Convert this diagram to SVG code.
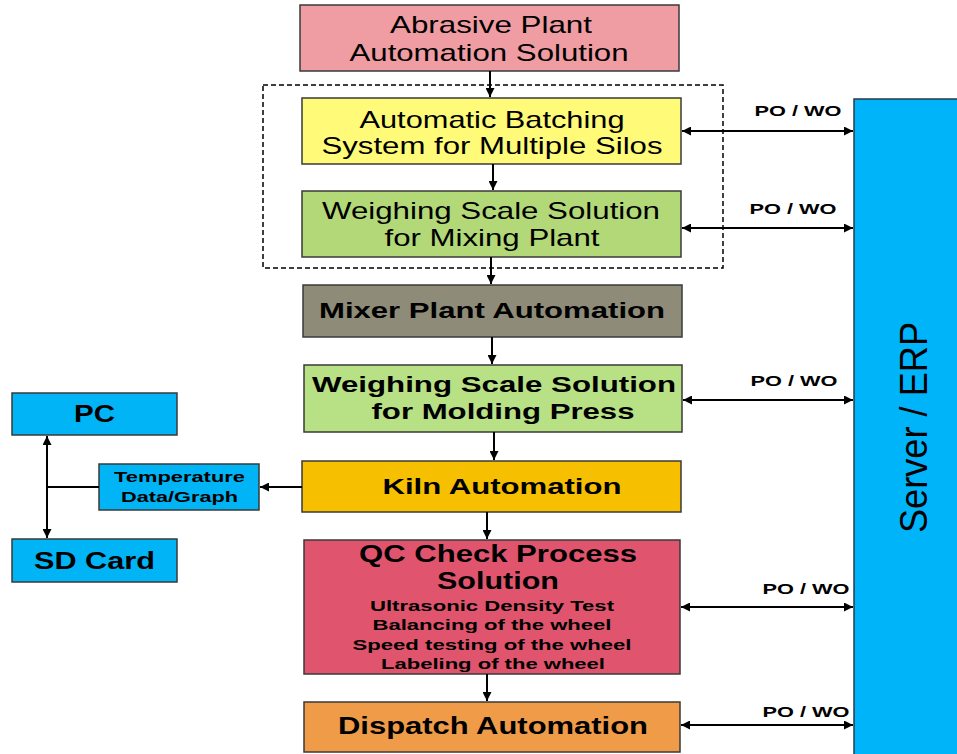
<svg xmlns="http://www.w3.org/2000/svg" width="957" height="754" viewBox="0 0 957 754">
<defs>
<marker id="ah" viewBox="0 0 10 10" refX="10" refY="5" markerWidth="9" markerHeight="9" markerUnits="userSpaceOnUse" orient="auto-start-reverse">
<path d="M0,0 L10,5 L0,10 Z" fill="#000"/>
</marker>
</defs>
<style>
.box{stroke:#3a3a3a;stroke-width:1.5}
.t{font-family:"Liberation Sans",Arial,sans-serif;fill:#000;text-anchor:middle}
.b{font-weight:bold}
.c{stroke:#000;stroke-width:2;fill:none}
.lbl{font-family:"Liberation Sans",Arial,sans-serif;font-weight:bold;font-size:15px;fill:#000;text-anchor:middle}
</style>
<rect width="957" height="754" fill="#fff"/>

<g id="group-dashed">
<rect x="263" y="85" width="460" height="183" fill="none" stroke="#000" stroke-width="1.5" stroke-dasharray="5,3"/>
</g>

<g id="abrasive">
<rect class="box" x="300" y="5" width="379" height="66" fill="#EF9CA3"/>
<text class="t" font-size="24" x="491" y="33" textLength="202" lengthAdjust="spacingAndGlyphs">Abrasive Plant</text>
<text class="t" font-size="24" x="489" y="61" textLength="279" lengthAdjust="spacingAndGlyphs">Automation Solution</text>
</g>

<g id="batching">
<rect class="box" x="302" y="98" width="379" height="66" fill="#FFFB78"/>
<text class="t" font-size="24" x="492" y="128" textLength="265" lengthAdjust="spacingAndGlyphs">Automatic Batching</text>
<text class="t" font-size="24" x="492" y="154" textLength="341" lengthAdjust="spacingAndGlyphs">System for Multiple Silos</text>
</g>

<g id="weighing-mixing">
<rect class="box" x="302" y="191" width="379" height="66" fill="#B3D878"/>
<text class="t" font-size="24" x="491" y="219" textLength="338" lengthAdjust="spacingAndGlyphs">Weighing Scale Solution</text>
<text class="t" font-size="24" x="492" y="246" textLength="215" lengthAdjust="spacingAndGlyphs">for Mixing Plant</text>
</g>

<g id="mixer">
<rect class="box" x="303" y="285" width="379" height="52" fill="#8E8B79"/>
<text class="t b" font-size="22" x="492" y="318" textLength="346" lengthAdjust="spacingAndGlyphs">Mixer Plant Automation</text>
</g>

<g id="weighing-molding">
<rect class="box" x="304" y="365" width="378" height="67" fill="#B8E084"/>
<text class="t b" font-size="22" x="494" y="392" textLength="364" lengthAdjust="spacingAndGlyphs">Weighing Scale Solution</text>
<text class="t b" font-size="22" x="503" y="419" textLength="263" lengthAdjust="spacingAndGlyphs">for Molding Press</text>
</g>

<g id="kiln">
<rect class="box" x="302" y="461" width="379" height="51" fill="#F6C000"/>
<text class="t b" font-size="22" x="502" y="494" textLength="239" lengthAdjust="spacingAndGlyphs">Kiln Automation</text>
</g>

<g id="qc">
<rect class="box" x="304" y="540" width="376" height="134" fill="#E0556D"/>
<text class="t b" font-size="23" x="498" y="562" textLength="278" lengthAdjust="spacingAndGlyphs">QC Check Process</text>
<text class="t b" font-size="23" x="498" y="589" textLength="122" lengthAdjust="spacingAndGlyphs">Solution</text>
<text class="t b" font-size="15" x="492" y="611" textLength="244" lengthAdjust="spacingAndGlyphs">Ultrasonic Density Test</text>
<text class="t b" font-size="15" x="492" y="630" textLength="239" lengthAdjust="spacingAndGlyphs">Balancing of the wheel</text>
<text class="t b" font-size="15" x="492" y="650" textLength="279" lengthAdjust="spacingAndGlyphs">Speed testing of the wheel</text>
<text class="t b" font-size="15" x="493" y="669" textLength="224" lengthAdjust="spacingAndGlyphs">Labeling of the wheel</text>
</g>

<g id="dispatch">
<rect class="box" x="304" y="702" width="376" height="50" fill="#EF9B48"/>
<text class="t b" font-size="23" x="493" y="734" textLength="310" lengthAdjust="spacingAndGlyphs">Dispatch Automation</text>
</g>

<g id="pc">
<rect class="box" x="12" y="393" width="165" height="42" fill="#00B4F6"/>
<text class="t b" font-size="23" x="94.5" y="422" textLength="41" lengthAdjust="spacingAndGlyphs">PC</text>
</g>

<g id="sdcard">
<rect class="box" x="12" y="539" width="165" height="43" fill="#00B4F6"/>
<text class="t b" font-size="23" x="94.5" y="569" textLength="121" lengthAdjust="spacingAndGlyphs">SD Card</text>
</g>

<g id="temperature">
<rect class="box" x="99" y="464" width="160" height="46" fill="#00B4F6"/>
<text class="t b" font-size="15" x="179.5" y="482" textLength="131" lengthAdjust="spacingAndGlyphs">Temperature</text>
<text class="t b" font-size="15" x="179.5" y="502" textLength="117" lengthAdjust="spacingAndGlyphs">Data/Graph</text>
</g>

<g id="server">
<rect x="854" y="99" width="110" height="660" fill="#00B4FA" stroke="#2a3a4a" stroke-width="1.5"/>
<text class="t" font-size="38" transform="translate(927,427.5) rotate(-90)" x="0" y="0" textLength="211" lengthAdjust="spacingAndGlyphs" fill="#111">Server / ERP</text>
</g>

<g id="connectors">
<line class="c" x1="490" y1="71" x2="490" y2="97" marker-end="url(#ah)"/>
<line class="c" x1="493" y1="164" x2="493" y2="190" marker-end="url(#ah)"/>
<line class="c" x1="491" y1="257" x2="491" y2="284" marker-end="url(#ah)"/>
<line class="c" x1="492" y1="337" x2="492" y2="364" marker-end="url(#ah)"/>
<line class="c" x1="494" y1="432" x2="494" y2="460" marker-end="url(#ah)"/>
<line class="c" x1="487" y1="512" x2="487" y2="539" marker-end="url(#ah)"/>
<line class="c" x1="487" y1="674" x2="487" y2="701" marker-end="url(#ah)"/>
<line class="c" x1="302" y1="487" x2="260" y2="487" marker-end="url(#ah)"/>
<line class="c" x1="47" y1="436" x2="47" y2="538" marker-start="url(#ah)" marker-end="url(#ah)"/>
<line class="c" x1="47" y1="487" x2="99" y2="487"/>
<line class="c" x1="682" y1="131" x2="853" y2="131" marker-start="url(#ah)" marker-end="url(#ah)"/>
<line class="c" x1="682" y1="228" x2="853" y2="228" marker-start="url(#ah)" marker-end="url(#ah)"/>
<line class="c" x1="683" y1="400" x2="853" y2="400" marker-start="url(#ah)" marker-end="url(#ah)"/>
<line class="c" x1="681" y1="607" x2="853" y2="607" marker-start="url(#ah)" marker-end="url(#ah)"/>
<line class="c" x1="681" y1="725" x2="853" y2="725" marker-start="url(#ah)" marker-end="url(#ah)"/>
<text class="lbl" x="798" y="116" textLength="87" lengthAdjust="spacingAndGlyphs">PO / WO</text>
<text class="lbl" x="793" y="214" textLength="87" lengthAdjust="spacingAndGlyphs">PO / WO</text>
<text class="lbl" x="794" y="386" textLength="87" lengthAdjust="spacingAndGlyphs">PO / WO</text>
<text class="lbl" x="806" y="594" textLength="87" lengthAdjust="spacingAndGlyphs">PO / WO</text>
<text class="lbl" x="806" y="717" textLength="87" lengthAdjust="spacingAndGlyphs">PO / WO</text>
</g>
</svg>
